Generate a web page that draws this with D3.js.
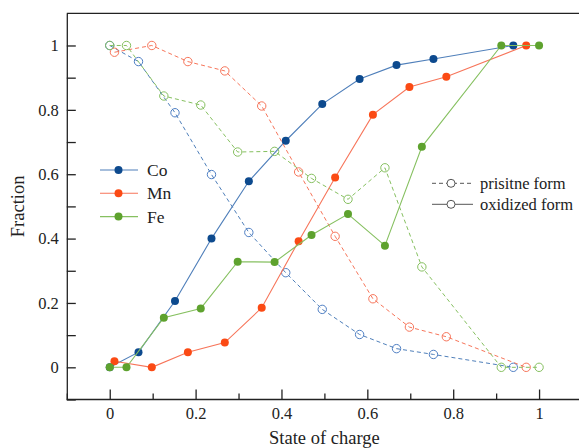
<!DOCTYPE html>
<head>
<meta charset="utf-8">
<style>
body { margin: 0; background: #fff; }
svg text { font-family: "Times New Roman", Times, "Liberation Serif", "DejaVu Serif", "Noto Serif", serif; }
.axis path, .axis line { stroke: #222; stroke-width: 1.3; fill: none; }
.axis text { font-size: 16.5px; fill: #222; }
.title { font-size: 18.5px; fill: #222; }
.legend { font-size: 17.5px; fill: #222; }
</style>
</head>
<body>
<script src="https://cdn.jsdelivr.net/npm/d3@7"></script>
<script>

// state of charge (x) and fraction (y)
var coX   = [0, 0.067, 0.152, 0.237, 0.324, 0.41, 0.495, 0.582, 0.668, 0.754, 0.94];
var coOx  = [0, 0.047, 0.206, 0.40, 0.578, 0.704, 0.818, 0.896, 0.939, 0.958, 1.0];
var coPr  = [1.0, 0.95, 0.791, 0.599, 0.419, 0.294, 0.18, 0.102, 0.058, 0.04, 0.0];

var mnX   = [0.011, 0.098, 0.182, 0.268, 0.354, 0.44, 0.525, 0.613, 0.698, 0.784, 0.97];
var mnOx  = [0.019, 0.0, 0.047, 0.077, 0.185, 0.392, 0.59, 0.785, 0.871, 0.903, 1.0];
var mnPr  = [0.979, 1.0, 0.95, 0.921, 0.812, 0.607, 0.407, 0.213, 0.125, 0.095, 0.0];

var feX   = [0, 0.039, 0.126, 0.212, 0.298, 0.384, 0.47, 0.555, 0.641, 0.727, 0.912, 1.0];
var feOx  = [0, 0, 0.154, 0.183, 0.328, 0.327, 0.411, 0.476, 0.378, 0.685, 1.0, 1.0];
var fePr  = [1.0, 1.0, 0.843, 0.815, 0.669, 0.671, 0.587, 0.522, 0.62, 0.312, 0.0, 0.0];

var xTicks = [0, 0.2, 0.4, 0.6, 0.8, 1];
var yTicks = [0, 0.2, 0.4, 0.6, 0.8, 1];

var series = [
  {name: "Co", x: coX, ox: coOx, pr: coPr, dot: "#0d4a8e", line: "#4f7fba", open: "#4f7fc4"},
  {name: "Mn", x: mnX, ox: mnOx, pr: mnPr, dot: "#fb4a14", line: "#f7755a", open: "#f7755a"},
  {name: "Fe", x: feX, ox: feOx, pr: fePr, dot: "#5ea22e", line: "#86c060", open: "#86c060"}
];

var W = 579, H = 448;
var x = d3.scaleLinear().domain([-0.1, 1.1]).range([66.8, 582]);
var y = d3.scaleLinear().domain([-0.1, 1.1]).range([399.5, 13.3]);

var svg = d3.select("body").append("svg")
    .attr("width", W)
    .attr("height", H);

// frame
svg.append("line").attr("x1", x(-0.1)).attr("x2", W).attr("y1", y(1.1)).attr("y2", y(1.1))
    .style("stroke", "#222").style("stroke-width", 1.3);

// bottom axis: major + minor ticks pointing inward
var xMinor = [-0.1, 0.1, 0.3, 0.5, 0.7, 0.9];
svg.append("g").attr("class", "axis")
    .attr("transform", "translate(0," + y(-0.1) + ")")
    .call(d3.axisBottom(x).tickValues(xMinor).tickSize(-6).tickFormat("").tickSizeOuter(0))
    .select(".domain").remove();
svg.append("g").attr("class", "axis")
    .attr("transform", "translate(0," + y(-0.1) + ")")
    .call(d3.axisBottom(x).tickValues(xTicks).tickSize(-10).tickPadding(8).tickSizeOuter(0)
        .tickFormat(d3.format("~g")))
    .select(".domain").attr("d", "M" + x(-0.1) + ",0H" + W);

// left axis
var yMinor = [-0.1, 0.1, 0.3, 0.5, 0.7, 0.9];
svg.append("g").attr("class", "axis")
    .attr("transform", "translate(" + x(-0.1) + ",0)")
    .call(d3.axisLeft(y).tickValues(yMinor).tickSize(-9).tickFormat("").tickSizeOuter(0))
    .select(".domain").remove();
svg.append("g").attr("class", "axis")
    .attr("transform", "translate(" + x(-0.1) + ",0)")
    .call(d3.axisLeft(y).tickValues(yTicks).tickSize(-9).tickPadding(8).tickSizeOuter(0)
        .tickFormat(d3.format("~g")));

svg.append("text").attr("class", "title")
    .attr("x", x(0.5)).attr("y", 444).attr("text-anchor", "middle")
    .text("State of charge");
svg.append("text").attr("class", "title")
    .attr("transform", "translate(24," + y(0.5) + ") rotate(-90)")
    .attr("text-anchor", "middle")
    .text("Fraction");

var line = d3.line()
    .x(function(d) { return x(d[0]); })
    .y(function(d) { return y(d[1]); });

series.forEach(function(s) {
  var pr = s.x.map(function(v, i) { return [v, s.pr[i]]; });
  var ox = s.x.map(function(v, i) { return [v, s.ox[i]]; });

  svg.append("path").attr("d", line(pr))
      .style("fill", "none").style("stroke", s.line)
      .style("stroke-width", 1).style("stroke-dasharray", "4,3");
  svg.append("g").selectAll("circle").data(pr).join("circle")
      .attr("cx", function(d) { return x(d[0]); })
      .attr("cy", function(d) { return y(d[1]); })
      .attr("r", 4.2)
      .style("fill", "none").style("stroke", s.open).style("stroke-width", 1);

  svg.append("path").attr("d", line(ox))
      .style("fill", "none").style("stroke", s.line).style("stroke-width", 1.1);
  svg.append("g").selectAll("circle").data(ox).join("circle")
      .attr("cx", function(d) { return x(d[0]); })
      .attr("cy", function(d) { return y(d[1]); })
      .attr("r", 4)
      .style("fill", s.dot);
});

// element legend
series.forEach(function(s, i) {
  var ly = 170 + i * 23.3;
  svg.append("line").attr("x1", 100).attr("x2", 138).attr("y1", ly).attr("y2", ly)
      .style("stroke", s.line).style("stroke-width", 1.1);
  svg.append("circle").attr("cx", 118.5).attr("cy", ly).attr("r", 4).style("fill", s.dot);
  svg.append("text").attr("class", "legend").attr("x", 147).attr("y", ly + 6).text(s.name);
});

// form legend
var forms = ["prisitne form", "oxidized form"];
forms.forEach(function(f, i) {
  var ly = 183.3 + i * 21;
  svg.append("line").attr("x1", 432).attr("x2", 473).attr("y1", ly).attr("y2", ly)
      .style("stroke", "#555").style("stroke-width", 1)
      .style("stroke-dasharray", i == 0 ? "4,3" : null);
  svg.append("circle").attr("cx", 451).attr("cy", ly).attr("r", 4)
      .style("fill", "#fff").style("stroke", "#555").style("stroke-width", 1);
  svg.append("text").attr("class", "legend").style("font-size", "16.5px")
      .attr("x", 480).attr("y", ly + 5.5).text(f);
});

</script>
</body>
